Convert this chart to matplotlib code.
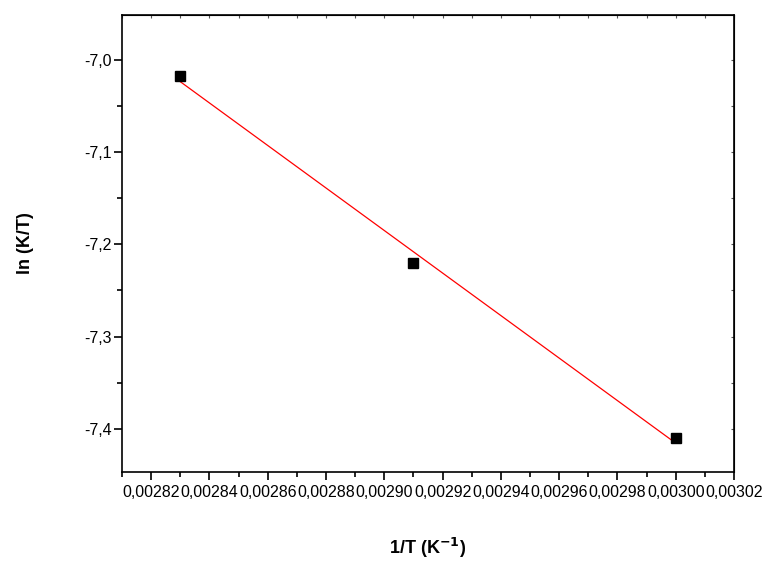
import numpy as np
import matplotlib
matplotlib.use('Agg')
import matplotlib.pyplot as plt
from matplotlib.ticker import MultipleLocator, FuncFormatter

# data
inv_T = [0.00283, 0.00291, 0.00300]
ln_KT = [-7.017, -7.220, -7.410]

plt.rcParams['font.family'] = ['Liberation Sans', 'DejaVu Sans']

fig = plt.figure(figsize=(7.69, 5.63), dpi=100)
ax = fig.add_axes([122 / 769, 1 - 472 / 563, (734 - 122) / 769, (472 - 15) / 563])

# linear fit
k, b = np.polyfit(inv_T, ln_KT, 1)
xfit = np.array([min(inv_T), max(inv_T)])
ax.plot(xfit, k * xfit + b, color='red', lw=0.9)
ax.plot(inv_T, ln_KT, 's', color='black', markersize=7.3)

ax.set_xlim(0.00281, 0.00302)
ax.set_ylim(-7.447, -6.951)

ax.xaxis.set_major_locator(MultipleLocator(0.00002))
ax.xaxis.set_minor_locator(MultipleLocator(0.00001))
ax.yaxis.set_major_locator(MultipleLocator(0.1))
ax.yaxis.set_minor_locator(MultipleLocator(0.05))

ax.xaxis.set_major_formatter(FuncFormatter(lambda v, p: f'{v:.5f}'.replace('.', ',')))
ax.yaxis.set_major_formatter(FuncFormatter(lambda v, p: f'{v:.1f}'.replace('.', ',')))

ax.tick_params(which='both', direction='out', width=1.2, labelsize=11.5)
ax.tick_params(which='major', length=6)
ax.tick_params(which='minor', length=3.5)
ax.tick_params(axis='y', pad=1.5)

# small inward ticks on the top and right frame
sx = ax.secondary_xaxis('top')
sx.xaxis.set_major_locator(MultipleLocator(0.00002))
sx.xaxis.set_minor_locator(MultipleLocator(0.00001))
sx.tick_params(which='both', direction='in', length=2, width=0.8,
               labeltop=False, color='#555555')
sy = ax.secondary_yaxis('right')
sy.yaxis.set_major_locator(MultipleLocator(0.1))
sy.yaxis.set_minor_locator(MultipleLocator(0.05))
sy.tick_params(which='both', direction='in', length=2, width=0.8,
               labelright=False, color='#555555')
for s in ax.spines.values():
    s.set_linewidth(1.2)

ax.set_xlabel('1/T (K$^{\\mathbf{-1}}$)', fontsize=13, fontweight='bold', labelpad=26)
ax.set_ylabel('ln (K/T)', fontsize=13, fontweight='bold', labelpad=36)

fig.savefig('out.png', dpi=100)
